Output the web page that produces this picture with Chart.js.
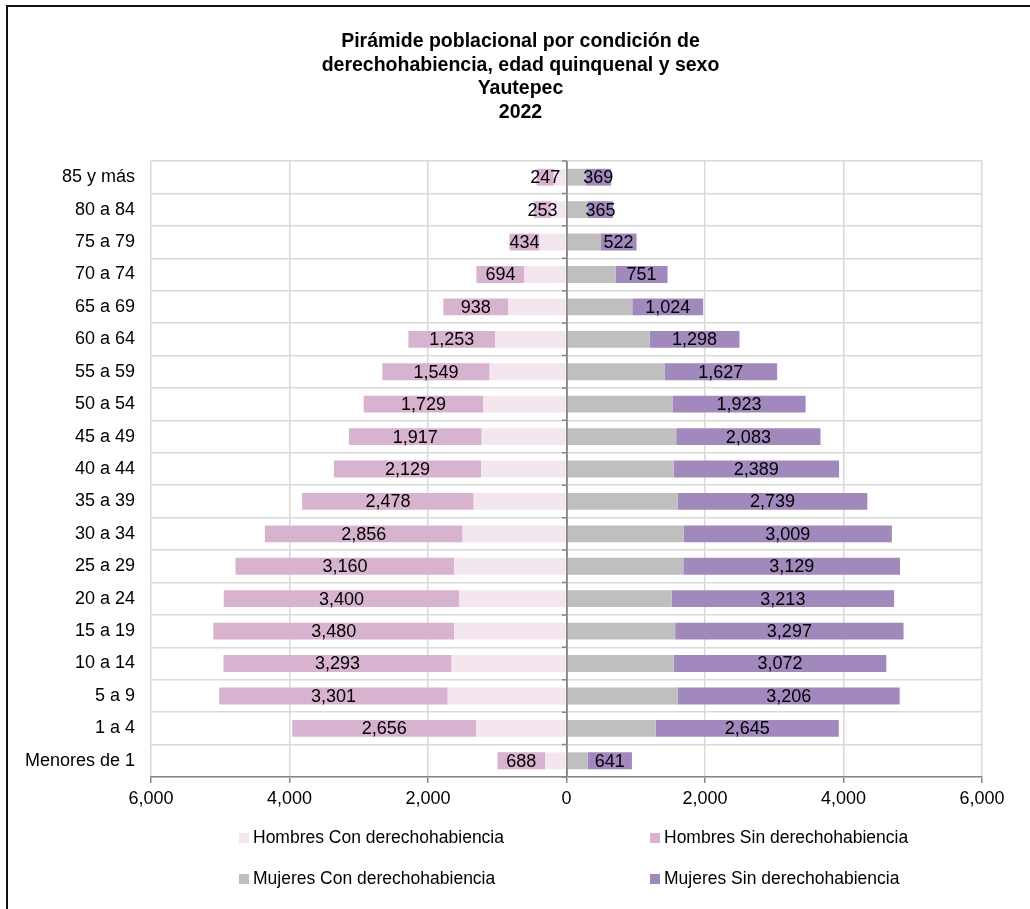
<!DOCTYPE html>
<html>
<head>
<meta charset="utf-8">
<script src="https://cdn.jsdelivr.net/npm/chart.js@4.4.1/dist/chart.umd.min.js"></script>
<style>
  body { margin: 0; background: #fff; font-family: "Liberation Sans", Arial, sans-serif; overflow: hidden; }
  #wrap { position: relative; width: 1030px; height: 909px; overflow: hidden; }
  #frame { position: absolute; left: 6px; top: 5px; width: 1100px; height: 1000px;
           border-left: 2px solid #111; border-top: 2px solid #111; }
  #chart { position: absolute; left: 0; top: 0; }
  #title { position: absolute; left: 0; top: 29px; width: 1041px; text-align: center;
           font-size: 19.5px; font-weight: bold; line-height: 23.6px; color: #000; }
  .leg { position: absolute; font-size: 17.5px; color: #000; line-height: 20px; white-space: nowrap; }
  .leg i { display: inline-block; width: 10px; height: 10px; margin-right: 4px; vertical-align: 0px; }
</style>
</head>
<body>
<div id="wrap">
  <div id="frame"></div>
  <canvas id="chart" width="1030" height="909"></canvas>
  <div id="title"></div>
  <div id="legend"></div>
</div>
<script>
// Age groups, bottom to top
const edades = ['Menores de 1', '1 a 4', '5 a 9', '10 a 14', '15 a 19', '20 a 24', '25 a 29',
  '30 a 34', '35 a 39', '40 a 44', '45 a 49', '50 a 54', '55 a 59', '60 a 64',
  '65 a 69', '70 a 74', '75 a 79', '80 a 84', '85 y más'];

// Hombres (shown to the left)
const hombresCon = [308, 1305, 1715, 1660, 1620, 1550, 1620, 1500, 1340, 1230, 1225, 1200, 1110, 1030, 840, 607, 390, 220, 184];
const hombresSin = [688, 2656, 3301, 3293, 3480, 3400, 3160, 2856, 2478, 2129, 1917, 1729, 1549, 1253, 938, 694, 434, 253, 247];

// Mujeres (shown to the right)
const mujeresCon = [304, 1287, 1605, 1547, 1570, 1518, 1687, 1690, 1605, 1547, 1585, 1530, 1415, 1200, 950, 708, 490, 308, 275];
const mujeresSin = [641, 2645, 3206, 3072, 3297, 3213, 3129, 3009, 2739, 2389, 2083, 1923, 1627, 1298, 1024, 751, 522, 365, 369];

const xTicks = [-6000, -4000, -2000, 0, 2000, 4000, 6000];

const titulo = ['Pirámide poblacional por condición de', 'derechohabiencia, edad quinquenal y sexo', 'Yautepec', '2022'];

const fontFam = '"Liberation Sans", Arial, sans-serif';
const fmt = v => Math.abs(v).toLocaleString('en-US');

document.getElementById('title').innerHTML = titulo.join('<br>');

// labels centred in the "Sin" bars
const barLabels = {
  id: 'barLabels',
  afterDatasetsDraw(chart) {
    const ctx = chart.ctx;
    ctx.save();
    ctx.font = '18px ' + fontFam;
    ctx.fillStyle = '#000';
    ctx.textAlign = 'center';
    ctx.textBaseline = 'middle';
    [1, 3].forEach(di => {
      const meta = chart.getDatasetMeta(di);
      meta.data.forEach((bar, i) => {
        const v = chart.data.datasets[di].data[i];
        ctx.fillText(fmt(v), (bar.x + bar.base) / 2, bar.y + 1);
      });
    });
    ctx.restore();
  }
};

// vertical axis at zero with small ticks
const zeroAxis = {
  id: 'zeroAxis',
  afterDatasetsDraw(chart) {
    const ctx = chart.ctx;
    const xs = chart.scales.x;
    const x0 = Math.round(xs.getPixelForValue(0));
    const area = chart.chartArea;
    const step = (area.bottom - area.top) / edades.length;
    ctx.save();
    ctx.strokeStyle = '#868686';
    ctx.lineWidth = 1.5;
    ctx.beginPath();
    ctx.moveTo(x0, area.top);
    ctx.lineTo(x0, area.bottom);
    for (let i = 0; i <= edades.length; i++) {
      const y = area.top + i * step;
      ctx.moveTo(x0 - 5, y);
      ctx.lineTo(x0, y);
    }
    ctx.stroke();
    ctx.restore();
  }
};

const chart = new Chart(document.getElementById('chart'), {
  type: 'bar',
  data: {
    labels: edades,
    datasets: [
      { label: 'Hombres Con derechohabiencia', data: hombresCon.map(v => -v), backgroundColor: '#f3e6ef' },
      { label: 'Hombres Sin derechohabiencia', data: hombresSin.map(v => -v), backgroundColor: '#d8b3cf' },
      { label: 'Mujeres Con derechohabiencia', data: mujeresCon, backgroundColor: '#bfbfbf' },
      { label: 'Mujeres Sin derechohabiencia', data: mujeresSin, backgroundColor: '#a189bd' }
    ]
  },
  options: {
    indexAxis: 'y',
    responsive: false,
    animation: false,
    categoryPercentage: 1,
    barPercentage: 0.52,
    layout: { padding: { left: 0, right: 48, top: 161, bottom: 92 } },
    plugins: {
      legend: { display: false },
      tooltip: { enabled: false },
      title: { display: false }
    },
    scales: {
      x: {
        stacked: true,
        min: -6000,
        max: 6000,
        afterBuildTicks: s => { s.ticks = xTicks.map(v => ({ value: v })); },
        afterFit: s => { s.height = 40; },
        ticks: {
          callback: v => fmt(v),
          color: '#000',
          font: { family: fontFam, size: 18 },
          padding: 5
        },
        grid: {
          color: c => (c.tick && c.tick.value === 0) ? '#868686' : '#d9d9d9',
          lineWidth: 1.5,
          tickColor: '#868686',
          tickLength: 6
        },
        border: { display: true, color: '#868686', width: 1.5 }
      },
      y: {
        stacked: true,
        reverse: true,
        afterFit: s => { s.width = 151; },
        ticks: {
          color: '#000',
          font: { family: fontFam, size: 18 },
          padding: 16
        },
        grid: { color: '#d9d9d9', lineWidth: 1.5, drawTicks: false },
        border: { display: false }
      }
    }
  },
  plugins: [barLabels, zeroAxis]
});

// legend in two columns, built from the chart datasets
const legPos = [[239, 827], [650, 827], [239, 868], [650, 868]];
const legend = document.getElementById('legend');
chart.data.datasets.forEach((ds, i) => {
  const d = document.createElement('div');
  d.className = 'leg';
  d.style.left = legPos[i][0] + 'px';
  d.style.top = legPos[i][1] + 'px';
  d.innerHTML = '<i style="background:' + ds.backgroundColor + '"></i>' + ds.label;
  legend.appendChild(d);
});
</script>
</body>
</html>
